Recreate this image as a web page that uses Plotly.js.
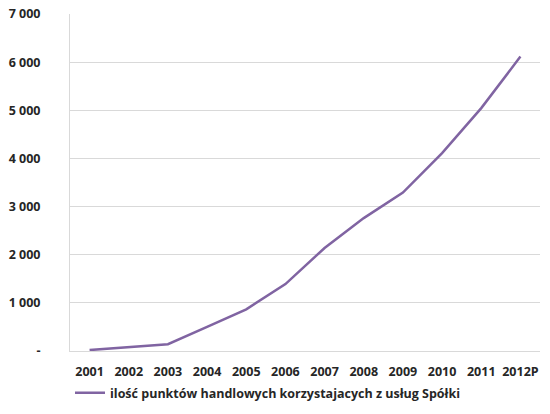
<!DOCTYPE html>
<html>
<head>
<meta charset="utf-8">
<script src="https://cdn.plot.ly/plotly-3.0.1.min.js"></script>
<style>html,body{margin:0;padding:0;background:#fff;}#chart{width:550px;height:414px;}</style>
</head>
<body>
<div id="chart"></div>
<script>
const years = ["2001","2002","2003","2004","2005","2006","2007","2008","2009","2010","2011","2012P"];
const points = [20, 85, 140, 500, 865, 1390, 2140, 2760, 3290, 4110, 5045, 6115];
const yTickVals = [0, 1000, 2000, 3000, 4000, 5000, 6000, 7000];
const yTickText = ["-", "1 000", "2 000", "3 000", "4 000", "5 000", "6 000", "7 000"];
const seriesName = "ilość punktów handlowych korzystajacych z usług Spółki";

const font = {family: "Open Sans, Liberation Sans, sans-serif", size: 12.5, color: "#262626", weight: 700};

Plotly.newPlot("chart", [{
  x: years, y: points, type: "scatter", mode: "lines", name: seriesName,
  line: {color: "#8064A2", width: 2.5}
}], {
  width: 550, height: 414,
  margin: {l: 70, r: 10, t: 14, b: 63, autoexpand: false},
  paper_bgcolor: "#fff", plot_bgcolor: "#fff",
  font: font,
  showlegend: true,
  legend: {orientation: "h", x: 0.0, xanchor: "left", y: -0.125, yanchor: "middle",
           font: font, itemwidth: 30, bgcolor: "rgba(0,0,0,0)"},
  xaxis: {type: "category", range: [-0.5, 11.5], showgrid: false, showline: true, linecolor: "#D9D9D9", linewidth: 1,
          automargin: false,
          ticks: "outside", ticklen: 9, tickcolor: "rgba(0,0,0,0)", tickfont: font, fixedrange: true},
  yaxis: {range: [0, 7000], tickvals: yTickVals, ticktext: yTickText, showgrid: true, automargin: false,
          gridcolor: "#D9D9D9", gridwidth: 1, showline: true, linecolor: "#D9D9D9", zeroline: false,
          ticks: "outside", ticklen: 26, tickcolor: "rgba(0,0,0,0)", tickfont: font, fixedrange: true}
}, {displayModeBar: false, staticPlot: true});
</script>
</body>
</html>
